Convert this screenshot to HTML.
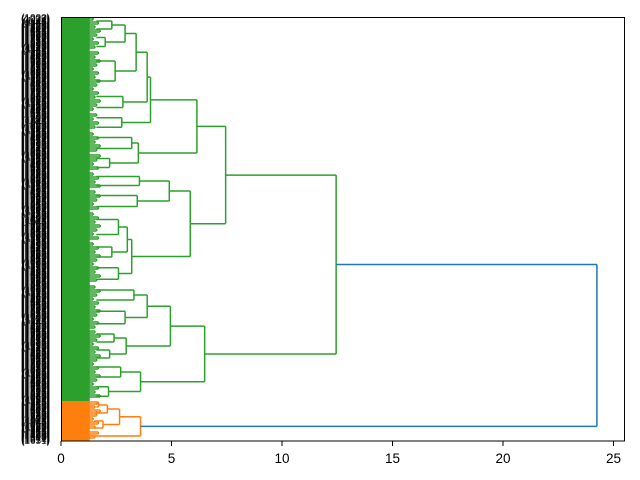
<!DOCTYPE html>
<html><head><meta charset="utf-8"><style>
html,body{margin:0;padding:0;background:#fff;}
svg{display:block;font-family:"Liberation Sans","DejaVu Sans",sans-serif;}
</style></head><body>
<svg id="chart" width="640" height="480" viewBox="0 0 640 480" xmlns="http://www.w3.org/2000/svg">
<rect x="0" y="0" width="640" height="480" fill="#fff"/>
<g id="labels"></g>
<g id="links"></g>
<rect x="61.5" y="17.5" width="563" height="423.5" fill="none" stroke="#000" stroke-width="1"/>
<g id="xaxis"></g>
</svg>
<script>
// tick values
const xTicks = [0, 5, 10, 15, 20, 25];
// cluster colors
const colorGreen = "#2ca02c", colorOrange = "#ff7f0e", colorRoot = "#1f77b4";
// terminal leaf groups: [leaf count, merge height]
function G(n, h) { return {n: n, h: h}; }
function N(h, a, b) { return {h: h, a: a, b: b}; }
// merge heights
const A1a = N(4.05, N(3.9, N(3.4, N(2.9, G(16, 2.3), G(18, 2.0)), G(40, 2.45)), G(22, 2.8)), G(19, 2.75));
const A1b = N(3.5, G(22, 3.2), G(18, 2.2));
const A2a = N(4.9, G(18, 3.55), G(22, 3.45));
const A2b = N(3.2, N(3.0, G(30, 2.6), G(20, 2.3)), G(23, 2.6));
const B1a = N(3.9, G(20, 3.3), G(25, 2.9));
const B1b = N(2.95, G(16, 2.4), G(16, 2.2));
const B2 = N(3.6, G(20, 2.7), G(19, 2.15));
const greenTree = N(12.45, N(7.45, N(6.15, A1a, A1b), N(5.85, A2a, A2b)), N(6.5, N(4.95, B1a, B1b), B2));
const orangeTree = N(3.6, N(2.65, N(2.1, G(8, 1.7), G(8, 1.6)), N(1.9, G(8, 1.5), G(6, 1.5))), G(10, 1.4));
const rootHeight = 24.25;

const NS = "http://www.w3.org/2000/svg";
const X0 = 61, PXU = 22.1, Y0 = 17, Y1 = 441;
function countLeaves(t) { return t.n !== undefined ? t.n : countLeaves(t.a) + countLeaves(t.b); }
const totalLeaves = countLeaves(greenTree) + countLeaves(orangeTree);
const xs = v => X0 + v * PXU;
const ys = i => Y0 + i * (Y1 - Y0) / totalLeaves;
const links = document.getElementById('links');
function line(x1, y1, x2, y2, c, name) {
  const l = document.createElementNS(NS, 'line');
  l.setAttribute('x1', x1); l.setAttribute('y1', y1); l.setAttribute('x2', x2); l.setAttribute('y2', y2);
  l.setAttribute('stroke', c); l.setAttribute('stroke-width', '1.5');
  
  
  links.appendChild(l);
}
let cursor = 0;
function draw(t, c) {
  if (t.n !== undefined) {
    const s = cursor, e = cursor + t.n; cursor = e;
    const r = document.createElementNS(NS, 'rect');
    r.setAttribute('x', xs(0)); r.setAttribute('y', ys(s));
    r.setAttribute('width', xs(1.3) - xs(0)); r.setAttribute('height', ys(e) - ys(s));
    r.setAttribute('fill', c);
    
    
    links.appendChild(r);
    // small sub-brackets inside the leaf group
    for (let k = s; k + 4 <= e; k += 4) {
      const ya = ys(k + 1), yb = ys(k + 3);
      const hx = xs(1.45 + ((k * 7) % 5) * 0.08);
      line(xs(1.25), ya, hx, ya, c, 'twig-link');
      line(xs(1.25), yb, hx, yb, c, 'twig-link');
      line(hx, ya, hx, yb, c, 'twig-link');
    }
    const ym = ys((s + e) / 2);
    if (t.h > 1.5) {
      const ya = ys(s + t.n * 0.25), yb = ys(s + t.n * 0.75);
      line(xs(1.6), ya, xs(t.h), ya, c, 'leaf-link');
      line(xs(1.6), yb, xs(t.h), yb, c, 'leaf-link');
      line(xs(t.h), ya, xs(t.h), yb, c, 'leaf-link');
    }
    return {y: ym, h: t.h};
  }
  const A = draw(t.a, c), B = draw(t.b, c);
  line(xs(A.h), A.y, xs(t.h), A.y, c, 'cluster-link');
  line(xs(B.h), B.y, xs(t.h), B.y, c, 'cluster-link');
  line(xs(t.h), A.y, xs(t.h), B.y, c, 'cluster-link');
  return {y: (A.y + B.y) / 2, h: t.h};
}
const g = draw(greenTree, colorGreen);
const o = draw(orangeTree, colorOrange);
line(xs(g.h), g.y, xs(rootHeight), g.y, colorRoot, 'root-link');
line(xs(o.h), o.y, xs(rootHeight), o.y, colorRoot, 'root-link');
line(xs(rootHeight), g.y, xs(rootHeight), o.y, colorRoot, 'root-link');

// leaf labels (dense, overlapping)
const lab = document.getElementById('labels');
for (let i = 0; i < totalLeaves; i++) {
  const t = document.createElementNS(NS, 'text');
  t.setAttribute('x', 50); t.setAttribute('y', ys(i + 0.5) + 3.5);
  t.setAttribute('text-anchor', 'end'); t.setAttribute('font-size', '10');
  t.setAttribute('fill', '#000'); t.setAttribute('fill-opacity', '0.85');
  
  
  t.textContent = '(' + String((i * 37) % 1000 + 1000).slice(0, 4) + ')';
  lab.appendChild(t);
}
// x axis
const xa = document.getElementById('xaxis');
xTicks.forEach(v => {
  const tk = document.createElementNS(NS, 'line');
  tk.setAttribute('x1', xs(v)); tk.setAttribute('x2', xs(v));
  tk.setAttribute('y1', 441); tk.setAttribute('y2', 446);
  tk.setAttribute('stroke', '#000'); tk.setAttribute('stroke-width', '1');
  
  
  xa.appendChild(tk);
  const tx = document.createElementNS(NS, 'text');
  tx.setAttribute('x', xs(v)); tx.setAttribute('y', 463);
  tx.setAttribute('text-anchor', 'middle'); tx.setAttribute('font-size', '13.5');
  
  
  tx.textContent = v;
  xa.appendChild(tx);
});
</script>
</body></html>
